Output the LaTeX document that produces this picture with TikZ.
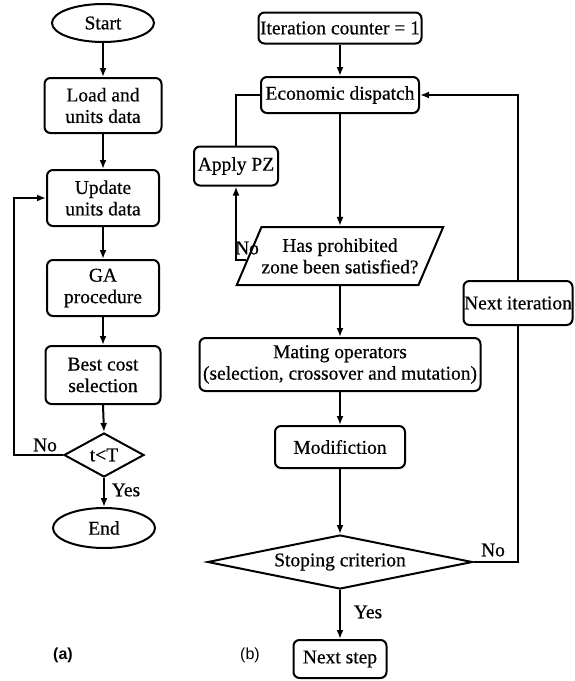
\documentclass[tikz,border=0pt]{standalone}
\usepackage{fontspec}
\setmainfont{Liberation Serif}[UprightFeatures={FakeBold=0.5}]
\setsansfont{Liberation Sans}
\usetikzlibrary{shapes.geometric,arrows.meta,calc}
\begin{document}
\begin{tikzpicture}[x=1pt,y=-1pt,
  every node/.style={font=\rmfamily\fontsize{19.5}{21.5}\selectfont},
  box/.style={draw,rounded corners=6pt,line width=2pt,align=center,inner sep=0.5pt},
  term/.style={draw,ellipse,line width=2pt,inner sep=0pt},
  dec/.style={draw,diamond,line width=2pt,inner sep=0pt},
  io/.style={draw,trapezium,trapezium left angle=55,trapezium right angle=125,trapezium stretches=true,line width=2pt,align=center,inner sep=0pt},
  flow/.style={line width=2pt,-{Latex[length=9pt,width=7pt]}},
  link/.style={line width=2pt},
  lbl/.style={inner sep=0pt},
  figcap/.style={inner sep=0pt,font=\sffamily\fontsize{16}{18}\selectfont},
]
\useasboundingbox[fill=white] (0,0) rectangle (574,681);
% (a)
\node[term,minimum width=102pt,minimum height=38pt] (start) at (103,23) {Start};
\node[box,minimum width=117pt,minimum height=55pt] (load) at (103,105.5) {Load and\\units data};
\node[box,minimum width=112pt,minimum height=56pt] (upd) at (103,198) {Update\\units data};
\node[box,minimum width=112pt,minimum height=56pt] (ga) at (103,288) {GA\\procedure};
\node[box,minimum width=115pt,minimum height=58pt] (best) at (103,375) {Best cost\\selection};
\node[dec,aspect=1.8,minimum width=80pt,minimum height=44pt] (tt) at (104,455) {t<T};
\node[term,minimum width=102pt,minimum height=40pt] (end) at (104,528) {End};
\coordinate (la) at (14,455);
\draw[flow] (start) -- (load);
\draw[flow] (load) -- (upd);
\draw[flow] (upd) -- (ga);
\draw[flow] (ga) -- (best);
\draw[flow] (best.south) -- (tt.north);
\draw[flow] (tt) -- (end);
\draw[flow] (tt.west) -- (la) |- (upd.west);
\node[lbl] (no1) at (45,445) {No};
\node[lbl] (yes1) at (126,490) {Yes};
\node[figcap,font=\sffamily\bfseries\fontsize{16}{18}\selectfont] (capa) at (63,655) {(a)};
% (b)
\node[box,minimum width=163pt,minimum height=31pt] (iter) at (340,28) {Iteration counter = 1};
\node[box,minimum width=158pt,minimum height=36pt] (econ) at (340,95) {Economic dispatch};
\node[box,minimum width=84pt,minimum height=39pt] (pz) at (236,166) {Apply PZ};
\node[io,minimum width=205pt,minimum height=58pt] (hp) at (340,256) {Has prohibited\\zone been satisfied?};
\coordinate (hpin) at ($(hp.bottom left corner)!0.43!(hp.top left corner)$);
\node[box,minimum width=109pt,minimum height=44pt] (nxt) at (518,303) {Next iteration};
\node[box,minimum width=281pt,minimum height=53pt] (mat) at (340,364.5) {Mating operators\\(selection, crossover and mutation)};
\node[box,minimum width=130pt,minimum height=42pt] (mod) at (340,447) {Modifiction};
\node[dec,aspect=4.9,minimum width=265pt,minimum height=54pt] (stop) at (340,562) {Stoping criterion};
\node[box,minimum width=93pt,minimum height=38pt] (ns) at (340,659) {Next step};
\draw[flow] (iter) -- (econ);
\draw[flow] (econ) -- (hp);
\draw[link] (econ.west) -| (pz.north);
\draw[flow] (hpin) -| (pz.south);
\draw[flow] (hp) -- (mat);
\draw[flow] (mat) -- (mod);
\draw[flow] (mod) -- (stop);
\draw[flow] (stop) -- (ns);
\draw[link] (stop.east) -| (nxt.south);
\draw[flow] (nxt.north) |- (econ.east);
\node[lbl] (no2) at (247,248) {No};
\node[lbl] (no3) at (493,550) {No};
\node[lbl] (yes2) at (368,612) {Yes};
\node[figcap] (capb) at (250,655) {(b)};
\end{tikzpicture}
\end{document}
